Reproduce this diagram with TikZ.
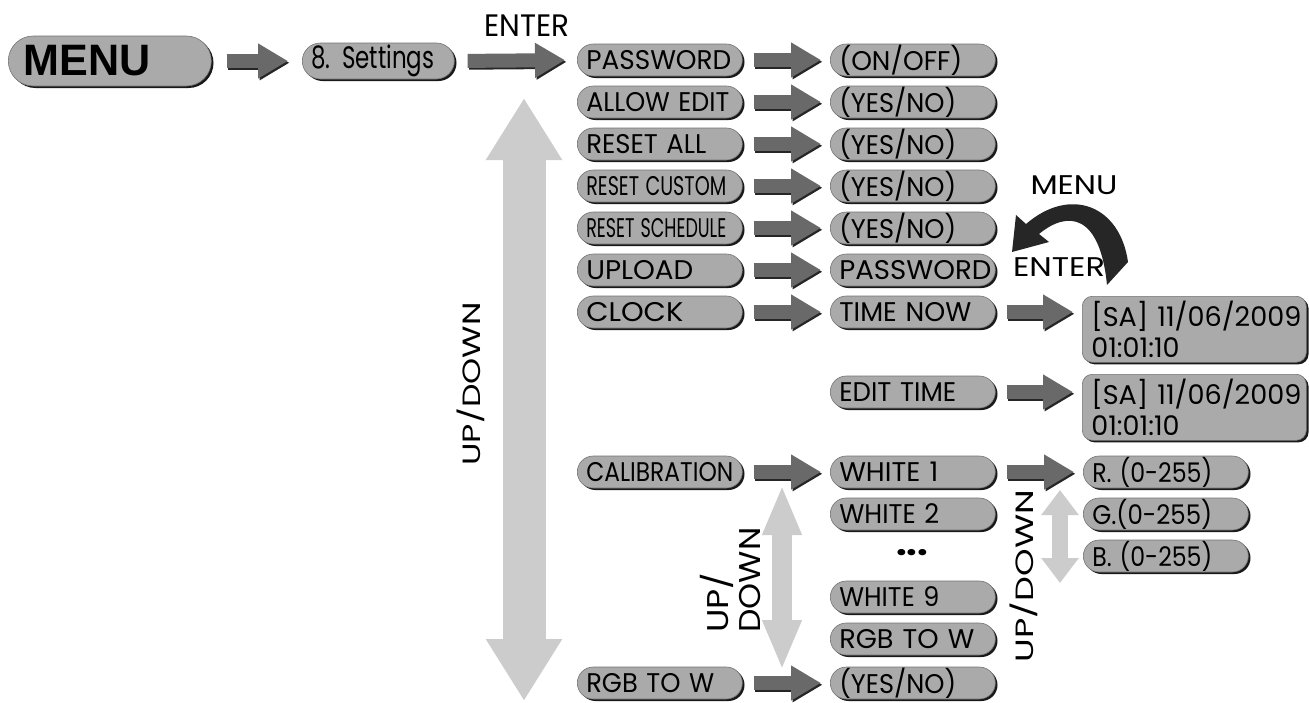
\documentclass[tikz,border=0pt]{standalone}
\usepackage{fontspec}
\setmainfont{Poppins}
\newfontfamily\arialb{Liberation Sans}
\usetikzlibrary{arrows.meta,shadows}
\definecolor{boxgray}{RGB}{170,170,170}
\definecolor{arrgray}{RGB}{105,105,105}
\definecolor{lightarr}{RGB}{204,204,204}
\newcommand\fatarr[3][]{\draw[fatshad,#1] (#2) -- (#3); \draw[fat,#1] (#2) -- (#3);}
\newcommand\sqz[2]{\resizebox{#1}{\height}{#2}}
\tikzset{
 capsule/.style={rectangle, rounded corners=16pt, fill=boxgray, draw=black!55, line width=0.6pt,
   general shadow={fill=black!90, shadow xshift=2.2pt, shadow yshift=-2pt},
   text width=147pt, inner xsep=9pt, inner ysep=0pt, minimum height=32pt, align=left, anchor=west,
   font=\fontsize{27}{30}\selectfont},
 fat/.style={draw=arrgray, line width=14pt, -{Triangle[length=30pt,width=33pt]}, shorten <=11pt, shorten >=9pt},
 fatshad/.style={fat, draw=black!85, transform canvas={shift={(1.5pt,-1.8pt)}}},
 lbl/.style={font=\fontsize{27}{30}\selectfont, inner sep=0pt}
}
\begin{document}
\begin{tikzpicture}[x=1pt,y=-1pt]
\useasboundingbox (0,0) rectangle (1309,702);
% up/down arrows
\coordinate (bt) at (524,98);
\coordinate (bb) at (524,701);
\draw[draw=lightarr, line width=43pt, {Triangle[length=62pt,width=72pt]}-{Triangle[length=62pt,width=72pt]}] (bt) -- (bb);
\coordinate (st) at (782,485);
\coordinate (sb) at (782,670);
\draw[draw=lightarr, line width=20pt, {Triangle[length=50pt,width=36pt]}-{Triangle[length=50pt,width=36pt]}] (st) -- (sb);
\coordinate (rt) at (1060,490);
\coordinate (rb) at (1060,583);
\draw[draw=lightarr, line width=16pt, {Triangle[length=25pt,width=36pt]}-{Triangle[length=25pt,width=36pt]}] (rt) -- (rb);

\node[capsule, text width=173pt, inner xsep=15pt, minimum height=50pt, rounded corners=25pt] (menu) at (8,61) {\arialb\bfseries\fontsize{44}{48}\selectfont\sqz{127pt}{MENU}};
\node[capsule, text width=134pt, minimum height=36pt, rounded corners=18pt, font=\fontsize{31}{33}\selectfont] (set) at (302,61) {\sqz{123pt}{8. Settings}};

\node[capsule] (a1) at (577,60) {\sqz{145pt}{PASSWORD}};
\node[capsule] (a2) at (577,102) {\sqz{143pt}{ALLOW EDIT}};
\node[capsule] (a3) at (577,144) {\sqz{120pt}{RESET ALL}};
\node[capsule] (a4) at (577,186) {\sqz{140pt}{RESET CUSTOM}};
\node[capsule] (a5) at (577,228) {\sqz{140pt}{RESET SCHEDULE}};
\node[capsule] (a6) at (577,270) {\sqz{107pt}{UPLOAD}};
\node[capsule] (a7) at (577,312) {\sqz{97pt}{CLOCK}};
\node[capsule] (a8) at (577,472) {\sqz{147pt}{CALIBRATION}};
\node[capsule] (a9) at (577,683) {\sqz{128pt}{RGB TO W}};

\node[capsule] (b1) at (830,60) {\sqz{123pt}{(ON/OFF)}};
\node[capsule] (b2) at (830,102) {\sqz{117pt}{(YES/NO)}};
\node[capsule] (b3) at (830,144) {\sqz{117pt}{(YES/NO)}};
\node[capsule] (b4) at (830,186) {\sqz{117pt}{(YES/NO)}};
\node[capsule] (b5) at (830,228) {\sqz{117pt}{(YES/NO)}};
\node[capsule] (b6) at (830,270) {\sqz{152pt}{PASSWORD}};
\node[capsule] (b7) at (830,312) {\sqz{132pt}{TIME NOW}};
\node[capsule] (b8) at (830,392) {\sqz{117pt}{EDIT TIME}};
\node[capsule] (b9) at (830,472) {\sqz{99pt}{WHITE 1}};
\node[capsule] (b10) at (830,514) {\sqz{100pt}{WHITE 2}};
\node[lbl, font=\fontsize{34}{36}\selectfont] (dots) at (912,553) {\bfseries\sqz{32pt}{...}};
\node[capsule] (b11) at (830,597) {\sqz{100pt}{WHITE 9}};
\node[capsule] (b12) at (830,639) {\sqz{135pt}{RGB TO W}};
\node[capsule] (b13) at (830,683) {\sqz{117pt}{(YES/NO)}};

\node[capsule, text width=206pt, minimum height=66pt, rounded corners=10pt, anchor=north west, font=\fontsize{27}{31}\selectfont] (t1) at (1082,296) {\sqz{210pt}{[SA] 11/06/2009}\\01:01:10};
\node[capsule, text width=206pt, minimum height=66pt, rounded corners=10pt, anchor=north west, font=\fontsize{27}{31}\selectfont] (t2) at (1082,374) {\sqz{210pt}{[SA] 11/06/2009}\\01:01:10};

\node[capsule] (r1) at (1083,472) {\sqz{120pt}{R. (0-255)}};
\node[capsule] (r2) at (1083,514) {\sqz{120pt}{G.(0-255)}};
\node[capsule] (r3) at (1083,556) {\sqz{120pt}{B. (0-255)}};

% connectors
\fatarr[shorten <=15pt, shorten >=14pt]{menu.east}{set.west}
\fatarr[shorten <=13pt, shorten >=12pt]{set.east}{a1.west}
\foreach \i in {1,...,7}{\fatarr{a\i.east}{b\i.west}}
\fatarr{a8.east}{b9.west}
\fatarr{a9.east}{b13.west}
\fatarr{b7.east}{b7.east -| t1.west}
\fatarr{b8.east}{b8.east -| t2.west}
\fatarr{b9.east}{r1.west}

% labels
\node[lbl, font=\fontsize{31}{33}\selectfont] (enter) at (527,26) {\sqz{85pt}{ENTER}};
\node[lbl, rotate=90, font=\fontsize{25}{27}\selectfont] (ud1) at (471,384) {\sqz{163pt}{UP/DOWN}};
\node[lbl, rotate=90, align=left, font=\fontsize{30}{32}\selectfont] (ud2) at (730,580) {\sqz{60pt}{UP/}\\\sqz{105pt}{DOWN}};
\node[lbl, rotate=90, font=\fontsize{25}{27}\selectfont] (ud3) at (1024,576) {\sqz{172pt}{UP/DOWN}};
\node[lbl] (menu2) at (1074,185) {\sqz{87pt}{MENU}};
\node[lbl] (enter2) at (1059,267) {\sqz{92pt}{ENTER}};
\fill[black!85] (1107,285) -- (1128,262) .. controls (1120,205) and (1070,186) .. (1026,224)
  -- (1016,215) -- (1012,252) -- (1049,242) -- (1039,234)
  .. controls (1068,210) and (1100,214) .. (1107,285) -- cycle;
\end{tikzpicture}
\end{document}
